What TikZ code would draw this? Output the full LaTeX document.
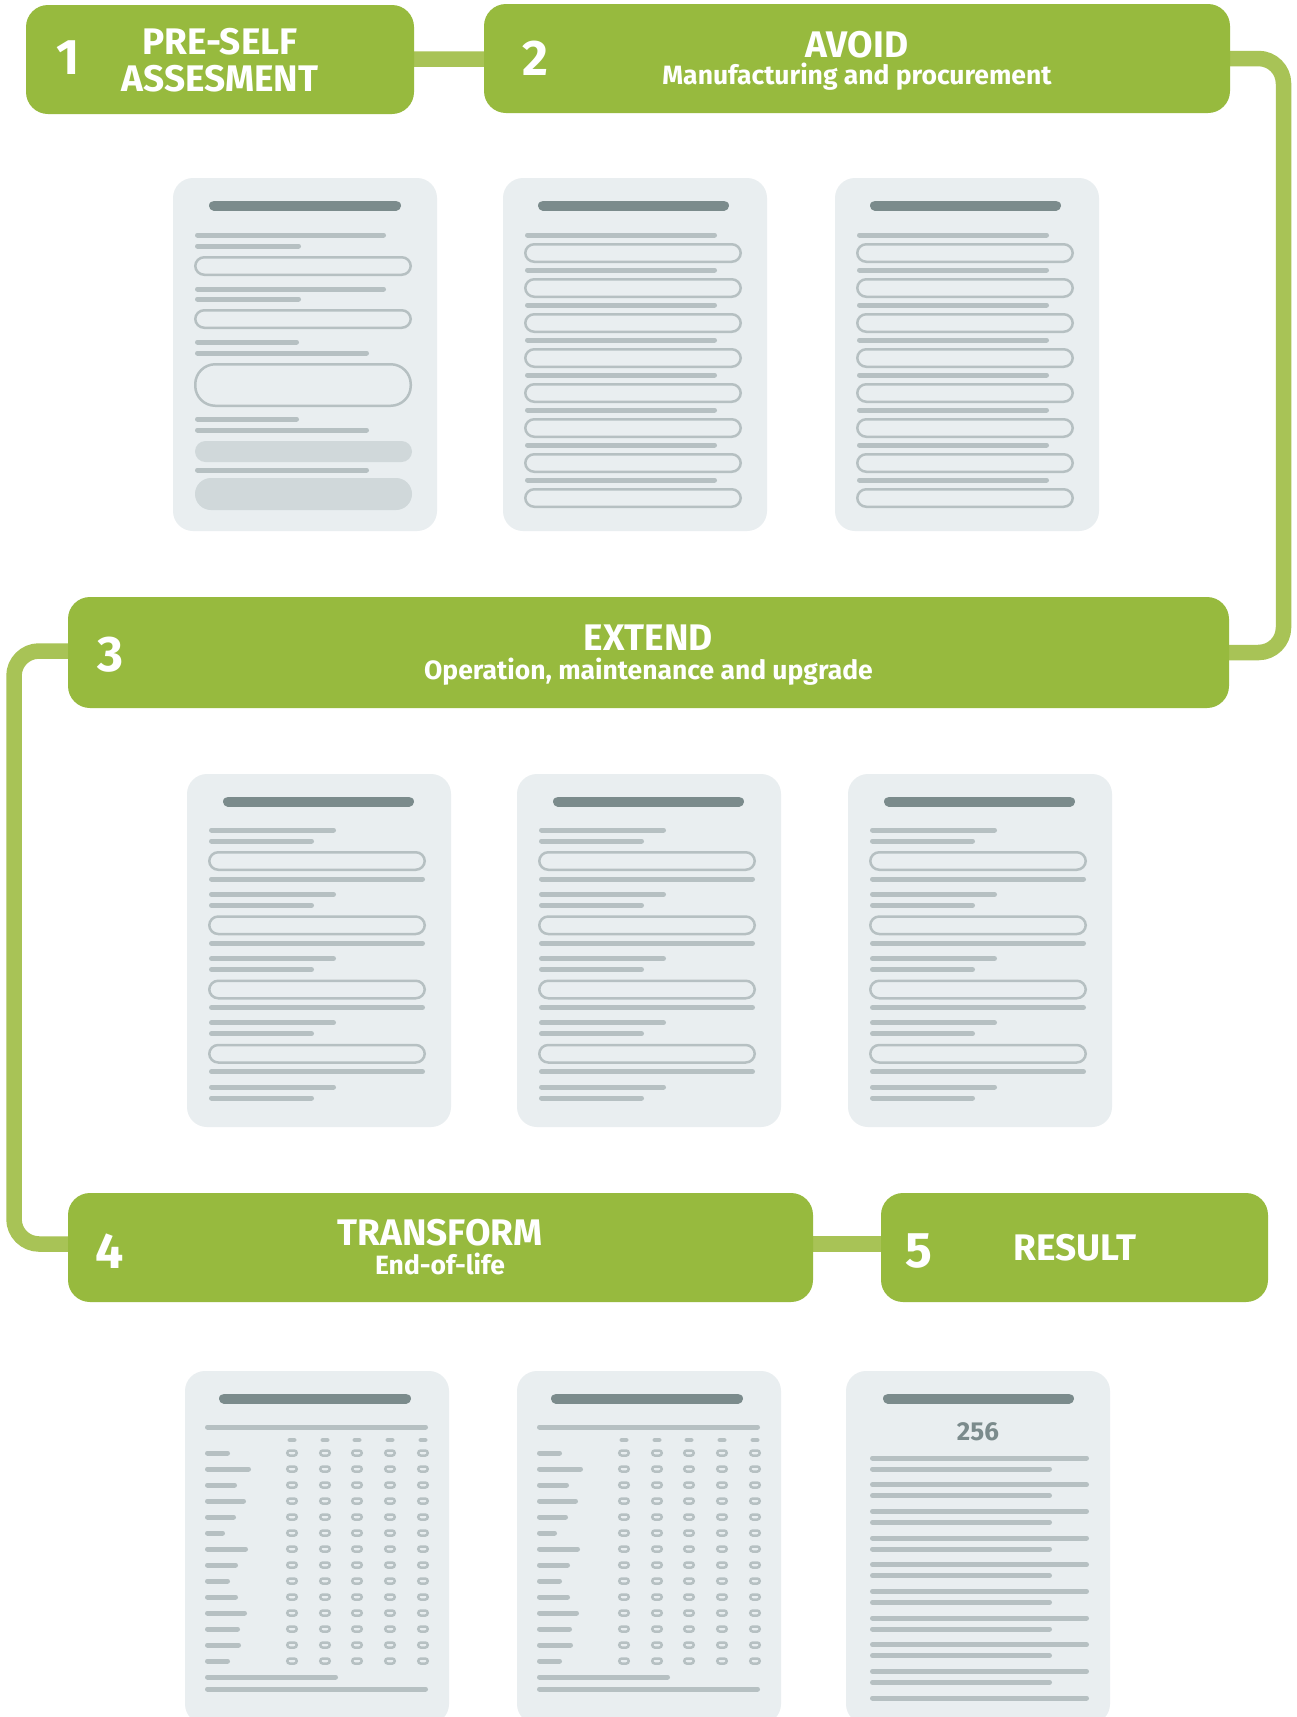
\documentclass[tikz,border=0pt]{standalone}
\usepackage{fontspec}
\setmainfont{Fira Sans}
\usetikzlibrary{backgrounds}

\definecolor{stagegreen}{HTML}{97BA3E}
\definecolor{linkgreen}{HTML}{A8C356}
\definecolor{sheetbg}{HTML}{E9EEF0}
\definecolor{headgray}{HTML}{7B8B8C}
\definecolor{rulegray}{HTML}{B6C0C2}
\definecolor{pillgray}{HTML}{D0D8DA}

\tikzset{
  stagebox/.style={fill=stagegreen, draw=none, rounded corners=22pt, inner sep=0pt, shape=rectangle},
  link/.style={draw=linkgreen, line width=15.5pt, rounded corners=25pt},
  numtxt/.style={text=white, inner sep=0pt, font=\bfseries\fontsize{50}{54}\selectfont},
  titletxt/.style={text=white, inner sep=0pt, anchor=base, font=\bfseries\fontsize{37}{41}\selectfont},
  subtxt/.style={text=white, inner sep=0pt, anchor=base, font=\bfseries\fontsize{26.5}{30}\selectfont},
  sheet/.style={fill=sheetbg, rounded corners=20pt},
  headbar/.style={draw=headgray, line width=10pt, line cap=round},
  txtline/.style={draw=rulegray, line width=5pt, line cap=round},
  fieldbox/.style={draw=rulegray, line width=2.5pt},
  ringline/.style={draw=rulegray, line width=2.5pt, rounded corners=2.5pt},
}

% horizontal text stand-in: outer left x, outer right x, y
\newcommand\docline[3]{\draw[txtline] ({#1+2.5},#3) -- ({#2-2.5},#3);}
% title bar of a sheet
\newcommand\docheader[2]{\draw[headbar] ({#1+5},27.5) -- ({#2-5},27.5);}
% outlined input field: top y, bottom y, corner radius
\newcommand\docfield[3]{\draw[fieldbox, rounded corners=#3pt] (22.25,{#1+1.25}) rectangle (237.75,{#2-1.25});}
% small outlined option ring in a table
\newcommand\ringpill[2]{\draw[ringline] ({#1-4.75},{#2-2.5}) rectangle ({#1+4.75},{#2+2.5});}

% sheet with a short form
\newcommand\formsheet[2]{%
  \begin{scope}[shift={(#1,#2)}]
    \fill[sheet] (0,0) rectangle (264,353);
    \docheader{36}{228}
    \docline{22}{213}{57}  \docline{22}{128}{68}
    \docfield{78}{98}{9}
    \docline{22}{213}{111} \docline{22}{128}{121}
    \docfield{131}{151}{9}
    \docline{22}{126}{164} \docline{22}{196}{175}
    \docfield{185}{229}{20}
    \docline{22}{126}{241} \docline{22}{196}{252}
    \fill[pillgray, rounded corners=10.5pt] (22,263) rectangle (239,284);
    \docline{22}{196}{292}
    \fill[pillgray, rounded corners=16pt] (22,300) rectangle (239,332);
  \end{scope}}

% sheet with eight labelled fields
\newcommand\listsheet[2]{%
  \begin{scope}[shift={(#1,#2)}]
    \fill[sheet] (0,0) rectangle (264,353);
    \docheader{35}{226}
    \foreach \k in {0,...,7}{
      \pgfmathsetmacro\yy{57+35*\k}
      \docline{22}{214}{\yy}
      \docfield{\yy+8}{\yy+28}{9}
    }
  \end{scope}}

% sheet with four question groups
\newcommand\groupsheet[2]{%
  \begin{scope}[shift={(#1,#2)}]
    \fill[sheet] (0,0) rectangle (264,353);
    \docheader{36}{227}
    \foreach \k in {0,...,3}{
      \pgfmathsetmacro\yy{56+64.25*\k}
      \docline{22}{149}{\yy}
      \docline{22}{127}{\yy+11}
      \docfield{\yy+21}{\yy+41}{9}
      \docline{22}{238}{\yy+49}
    }
    \docline{22}{149}{313} \docline{22}{127}{324}
  \end{scope}}

% sheet with a rating table
\newcommand\tablesheet[2]{%
  \begin{scope}[shift={(#1,#2)}]
    \fill[sheet] (0,0) rectangle (264,353);
    \docheader{34}{226}
    \docline{20}{243}{56}
    \foreach \cx in {107,140,172,205,238}{
      \draw[draw=rulegray, line width=4.5pt, line cap=round] ({\cx-2.25},69) -- ({\cx+2.25},69);
    }
    \foreach \len [count=\j from 0] in {45,66,52,61,51,40,63,53,45,53,62,55,56,45}{
      \pgfmathsetmacro\yy{82+16*\j}
      \docline{20}{\len}{\yy}
      \foreach \cx in {107,140,172,205,238}{\ringpill{\cx}{\yy}}
    }
    \docline{20}{153}{306}
    \docline{20}{243}{318}
  \end{scope}}

% sheet with the final score
\newcommand\scoresheet[2]{%
  \begin{scope}[shift={(#1,#2)}]
    \fill[sheet] (0,0) rectangle (264,353);
    \docheader{37}{228}
    \node[text=headgray, inner sep=0pt, anchor=base, font=\bfseries\fontsize{26}{30}\selectfont] (score) at (132,69) {256};
    \foreach \k in {0,...,8}{
      \pgfmathsetmacro\yy{87+26.67*\k}
      \docline{24}{243}{\yy}
      \docline{24}{206}{\yy+11}
    }
    \docline{24}{243}{327}
  \end{scope}}

\begin{document}
\begin{tikzpicture}[x=1pt, y=-1pt]
  \useasboundingbox (0,0) rectangle (1297,1717);
  \clip (0,0) rectangle (1297,1717);

  % stage boxes
  \node[stagebox, minimum width=388pt, minimum height=109pt] (s1) at (220,59.5) {};
  \node[stagebox, minimum width=746pt, minimum height=109pt] (s2) at (857,58.5) {};
  \node[stagebox, minimum width=1161pt, minimum height=111pt] (s3) at (648.5,652.5) {};
  \node[stagebox, minimum width=745pt, minimum height=109pt] (s4) at (440.5,1247.5) {};
  \node[stagebox, minimum width=387pt, minimum height=109pt] (s5) at (1074.5,1247.5) {};

  % stage labels
  \node[numtxt] (n1) at (68,58) {1};
  \node[titletxt] (t1a) at (220,54) {PRE-SELF};
  \node[titletxt] (t1b) at (220,91) {ASSESMENT};

  \node[numtxt] (n2) at (535,58) {2};
  \node[titletxt] (t2) at (857,57) {AVOID};
  \node[subtxt] (u2) at (857,84) {Manufacturing and procurement};

  \node[numtxt] (n3) at (110,654.5) {3};
  \node[titletxt] (t3) at (648.5,650) {EXTEND};
  \node[subtxt] (u3) at (648.5,679) {Operation, maintenance and upgrade};

  \node[numtxt] (n4) at (110,1251) {4};
  \node[titletxt] (t4) at (440,1245.5) {TRANSFORM};
  \node[subtxt] (u4) at (440,1274) {End-of-life};

  \node[numtxt] (n5) at (919,1251) {5};
  \node[titletxt] (t5) at (1075,1260) {RESULT};

  % rails for the winding connectors
  \coordinate (railR) at (1283.5,0);
  \coordinate (railL) at (14,0);

  \begin{pgfonlayer}{background}
    \fill[white] (0,0) rectangle (1297,1717);
    \draw[link] (s1.center) -- (s2.center);
    \draw[link] (s2.center) -| (railR |- s3.center) -- (s3.center);
    \draw[link] ([yshift=1.5pt]s3.center) -| ([yshift=3.5pt]railL |- s4.center) -- ([yshift=3.5pt]s4.center);
    \draw[link] ([yshift=3.5pt]s4.center) -- ([yshift=3.5pt]s5.center);
  \end{pgfonlayer}

  % sheets under stage 2
  \formsheet{173}{178}
  \listsheet{503}{178}
  \listsheet{835}{178}

  % sheets under stage 3
  \groupsheet{187}{774}
  \groupsheet{517}{774}
  \groupsheet{848}{774}

  % sheets under stages 4 and 5
  \tablesheet{185}{1371}
  \tablesheet{517}{1371}
  \scoresheet{846}{1371}
\end{tikzpicture}
\end{document}
